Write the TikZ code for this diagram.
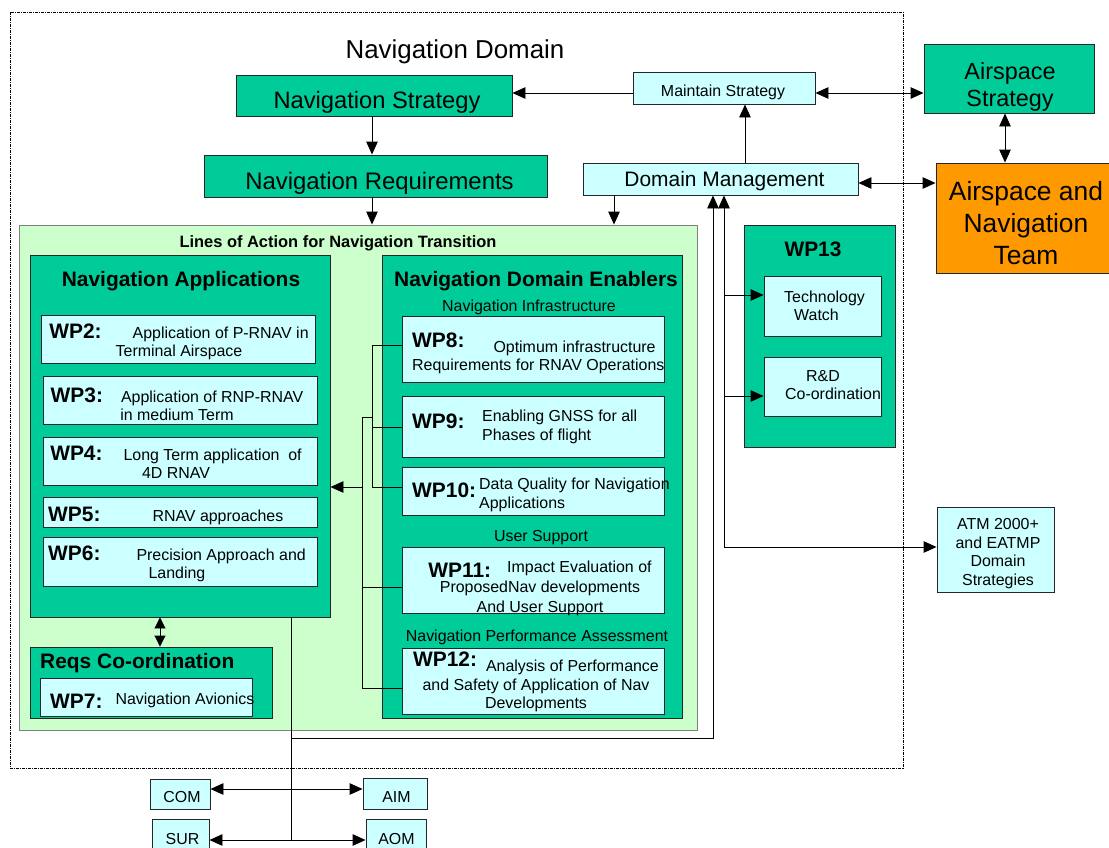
\documentclass[tikz,border=0pt]{standalone}
\usepackage{fontspec}
\setmainfont{Liberation Sans}
\usetikzlibrary{arrows.meta,fit}
\definecolor{navgreen}{HTML}{00CC99}
\definecolor{navcyan}{HTML}{CCFFFF}
\definecolor{navpale}{HTML}{CCFFCC}
\definecolor{navorange}{HTML}{FF9900}
\newcommand\wpl[1]{{\fontsize{21}{24}\selectfont\bfseries #1}}

\begin{document}
\begin{tikzpicture}[x=1bp,y=-1bp,
    box/.style={draw=black!85, line width=0.9bp, inner sep=0pt},
    grnbox/.style={box, fill=navgreen},
    cyanbox/.style={box, fill=navcyan},
    txt/.style={inner sep=0pt, font=\fontsize{16}{18.5}\selectfont},
    ttl/.style={inner sep=0pt, font=\fontsize{21}{24}\selectfont\bfseries},
    wire/.style={line width=0.9bp},
    arr/.style={wire, -{Triangle[length=13bp,width=11.5bp]}},
    darr/.style={wire, {Triangle[length=13bp,width=11.5bp]}-{Triangle[length=13bp,width=11.5bp]}},
    sdarr/.style={wire, {Triangle[length=11bp,width=11bp]}-{Triangle[length=11bp,width=11bp]}}]
  \useasboundingbox (0,0) rectangle (1109,848);

  % navigation domain frame
  \draw[line width=0.8bp, dash pattern=on 3bp off 1bp on 1bp off 1bp] (10,12) rectangle (903,768);
  \node[txt, font=\fontsize{26}{30}\selectfont, anchor=base] (domt) at (455,58) {Navigation Domain};

  % strategy, requirements, management
  \node[grnbox, fit={(236,75) (512,116)}] (navstrat) {};
  \node[txt, font=\fontsize{23.8}{27}\selectfont, anchor=base] (navstratt) at (377,108) {Navigation Strategy};
  \node[grnbox, fit={(204,155) (547,197)}] (navreq) {};
  \node[txt, font=\fontsize{24}{27}\selectfont, anchor=base] (navreqt) at (379.5,189) {Navigation Requirements};
  \node[cyanbox, fit={(633,72) (815,104)}] (maint) {};
  \node[txt, anchor=base] (maintt) at (723,96.5) {Maintain Strategy};
  \node[cyanbox, fit={(583,163) (858,195)}] (dm) {};
  \node[txt, font=\fontsize{21}{24}\selectfont, anchor=base] (dmt) at (724.5,186) {Domain Management};
  \node[grnbox, fit={(924,44) (1094,113)}] (asstrat) {};
  \node[txt, font=\fontsize{23.5}{27}\selectfont, align=center] (asstratt) at (1010,86.5) {Airspace\\Strategy};
  \node[box, fill=navorange, fit={(936,163) (1112,273)}] (team) {};
  \node[txt, font=\fontsize{26.5}{32.5}\selectfont, align=center] (teamt) at (1026,223) {Airspace and\\Navigation\\Team};

  % lines of action
  \node[box, draw=black!50, fill=navpale, fit={(19,225) (697,730)}] (loa) {};
  \node[txt, font=\fontsize{16.5}{19}\selectfont\bfseries, anchor=base] (loat) at (338,247) {Lines of Action for Navigation Transition};

  % navigation applications
  \node[grnbox, fit={(30,255) (330,617)}] (navapp) {};
  \node[ttl, anchor=base] (navappt) at (181,286) {Navigation Applications};
  \node[cyanbox, fit={(41,315) (315,363)}] (wp2) {};
  \node[txt, align=center] (wp2t) at (179,342) {\wpl{WP2:}\hspace{31bp}Application of P-RNAV in\\Terminal Airspace};
  \node[cyanbox, fit={(43,376) (317,424)}] (wp3) {};
  \node[txt, align=center] (wp3t) at (177,404) {\wpl{WP3:}\hspace{18bp}Application of RNP-RNAV\\in medium Term};
  \node[cyanbox, fit={(43,437) (317,485)}] (wp4) {};
  \node[txt, align=center] (wp4t) at (176,462.5) {\wpl{WP4:}\hspace{21bp}Long Term application\ \ of\\4D RNAV};
  \node[cyanbox, fit={(43,497) (317,527)}] (wp5) {};
  \node[txt, anchor=base west] (wp5t) at (48,521) {\wpl{WP5:}\hspace{52bp}RNAV approaches};
  \node[cyanbox, fit={(43,537) (317,586)}] (wp6) {};
  \node[txt, align=center] (wp6t) at (177,564) {\wpl{WP6:}\hspace{36bp}Precision Approach and\\Landing};

  % requirements co-ordination
  \node[grnbox, fit={(30,647) (272,718)}] (reqs) {};
  \node[ttl, anchor=base west] (reqst) at (40,668) {Reqs Co-ordination};
  \node[cyanbox, fit={(40,678) (252,716)}] (wp7) {};
  \node[txt, anchor=base west] (wp7t) at (50,704) {\raisebox{-4bp}{\wpl{WP7:}}\hspace{13bp}Navigation Avionics};

  % navigation domain enablers
  \node[grnbox, fit={(382,255) (682,718)}] (enab) {};
  \node[ttl, anchor=base] (enabt) at (536,286) {Navigation Domain Enablers};
  \node[txt, anchor=base] (infrat) at (529,311.5) {Navigation Infrastructure};
  \node[cyanbox, fit={(402,316) (664,382)}] (wp8) {};
  \node[txt, align=left, anchor=west] (wp8t) at (412,353.5) {\raisebox{5bp}{\wpl{WP8:}}\hspace{29bp}Optimum infrastructure\\Requirements for RNAV Operations};
  \node[cyanbox, fit={(402,396) (664,457)}] (wp9) {};
  \node[ttl, anchor=base west] (wp9l) at (412,428) {WP9:};
  \node[txt, align=left, anchor=west] (wp9t) at (482,427) {Enabling GNSS for all\\Phases of flight};
  \node[cyanbox, fit={(402,467) (664,515)}] (wp10) {};
  \node[ttl, anchor=base west] (wp10l) at (412,497) {WP10:};
  \node[txt, align=left, anchor=west] (wp10t) at (479,495) {Data Quality for Navigation\\Applications};
  \node[txt, anchor=base] (usert) at (541,541) {User Support};
  \node[cyanbox, fit={(402,547) (664,613)}] (wp11) {};
  \node[txt, align=center] (wp11t) at (540,588) {\raisebox{-5bp}{\wpl{WP11:}}\hspace{16bp}Impact Evaluation of\\[1.5bp]ProposedNav developments\\[1.5bp]And User Support};
  \node[txt, anchor=base] (perft) at (537,641) {Navigation Performance Assessment};
  \node[cyanbox, fit={(402,648) (664,714)}] (wp12) {};
  \node[txt, align=center] (wp12t) at (536,682) {\raisebox{5bp}{\wpl{WP12:}}\hspace{9bp}Analysis of Performance\\and Safety of Application of Nav\\Developments};

  % wp13
  \node[grnbox, fit={(744,225) (895,447)}] (wp13) {};
  \node[ttl, anchor=base] (wp13t) at (813,256) {WP13};
  \node[cyanbox, fit={(764,276) (881,336)}] (tech) {};
  \node[txt, align=left, anchor=west] (techt) at (784,305.6) {Technology\\\hspace*{10bp}Watch};
  \node[cyanbox, fit={(764,357) (881,416)}] (rnd) {};
  \node[txt, align=left, anchor=west] (rndt) at (785,385) {\hspace*{21bp}R\&D\\Co-ordination};

  % outside boxes
  \node[cyanbox, fit={(937,507) (1054,592)}] (atm) {};
  \node[txt, align=center] (atmt) at (998,553.5) {ATM 2000+\\and EATMP\\Domain\\Strategies};
  \node[cyanbox, fit={(150,779) (210,809)}] (com) {};
  \node[txt, anchor=base] (comt) at (182,802) {COM};
  \node[cyanbox, fit={(152,819) (209,852)}] (sur) {};
  \node[txt, anchor=base] (surt) at (182.5,844) {SUR};
  \node[cyanbox, fit={(363,778) (427,809)}] (aim) {};
  \node[txt, anchor=base] (aimt) at (396.5,802) {AIM};
  \node[cyanbox, fit={(366,819) (426,852)}] (aom) {};
  \node[txt, anchor=base] (aomt) at (396.5,844) {AOM};

  % connectors, top part
  \draw[arr] (navstrat.south -| 372,0) -- (navreq.north -| 372,0);
  \draw[arr] (navreq.south -| 372,0) -- (loa.north -| 372,0);
  \draw[arr] (maint.west |- 0,93) -- (navstrat.east |- 0,93);
  \draw[darr] (maint.east |- 0,93) -- (asstrat.west |- 0,93);
  \draw[arr] (dm.north -| 745,0) -- (maint.south -| 745,0);
  \draw[darr] (asstrat.south -| 1005,0) -- (team.north -| 1005,0);
  \draw[darr] (dm.east |- 0,183) -- (team.west |- 0,183);
  \draw[arr] (dm.south -| 614,0) -- (loa.north -| 614,0);

  % wp13 and strategies bus
  \coordinate (busr) at (724,547);
  \draw[arr] (busr) -- (dm.south -| busr);
  \draw[arr] (busr) -- (atm.west |- busr);
  \draw[arr] (busr |- 0,295) -- (tech.west |- 0,295);
  \draw[arr] (busr |- 0,396) -- (rnd.west |- 0,396);

  % applications bus to management and other domains
  \coordinate (busl) at (713,738);
  \coordinate (appdrop) at (291,738);
  \draw[arr] (navapp.south -| appdrop) -- (appdrop) -- (busl) -- (dm.south -| busl);
  \draw[wire] (appdrop) -- (291,840);
  \draw[darr] (com.east |- 0,789) -- (aim.west |- 0,789);
  \draw[darr] (sur.east |- 0,840) -- (aom.west |- 0,840);
  \draw[sdarr] (navapp.south -| 160,0) -- (reqs.north -| 160,0);

  % enablers to applications
  \draw[wire] (wp8.west |- 0,345) -- (372,345) -- (372,487) -- (wp10.west |- 0,487);
  \draw[wire] (372,427) -- (wp9.west |- 0,427);
  \draw[wire] (372,417) -- (362,417) -- (362,688) -- (wp12.west |- 0,688);
  \draw[wire] (362,587) -- (wp11.west |- 0,587);
  \draw[arr] (362,487) -- (navapp.east |- 0,487);
\end{tikzpicture}
\end{document}
